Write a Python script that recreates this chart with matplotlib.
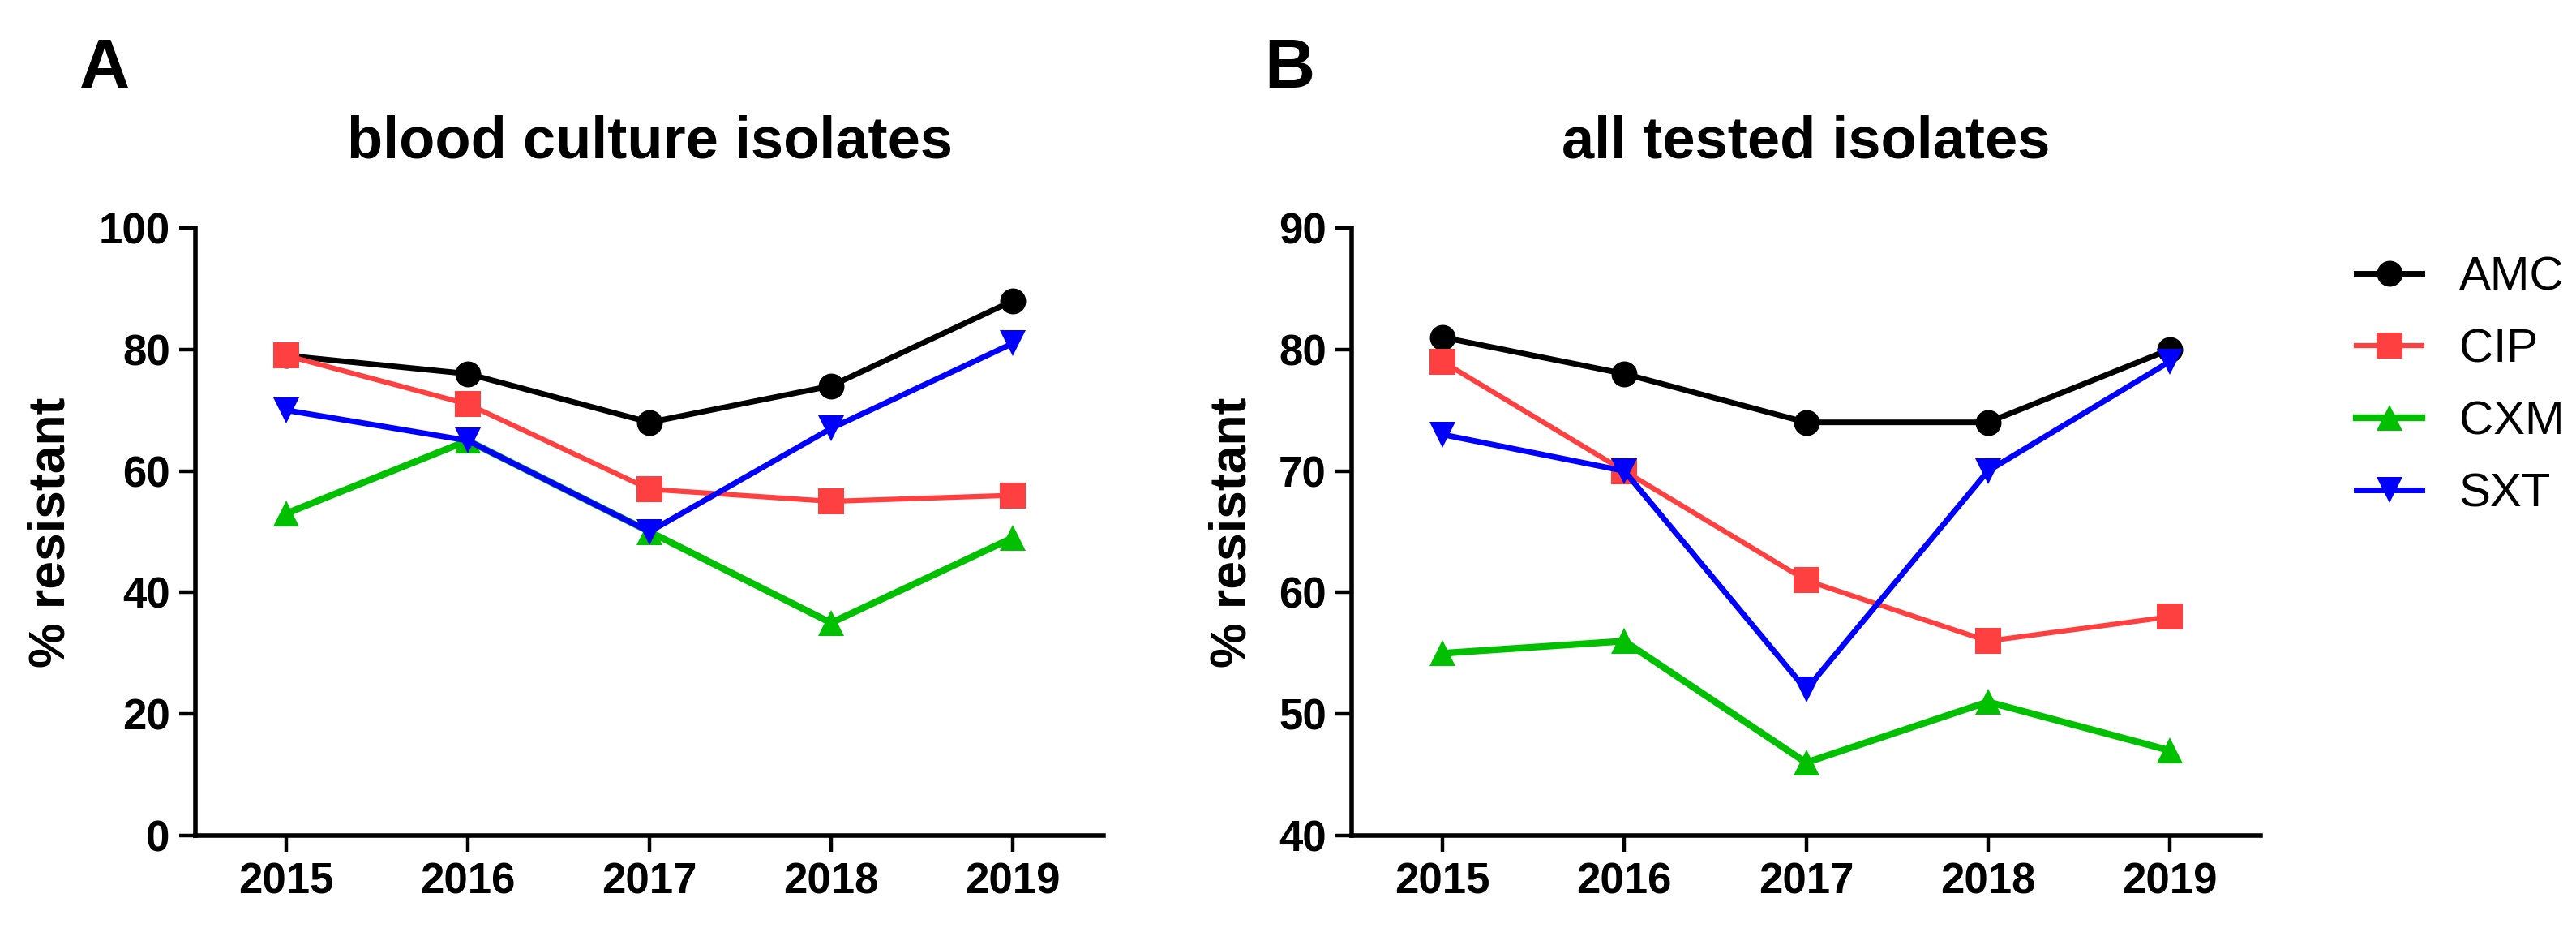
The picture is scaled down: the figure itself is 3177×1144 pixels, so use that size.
import matplotlib
matplotlib.use("Agg")
import matplotlib.pyplot as plt

plt.rcParams['font.family'] = ['Liberation Sans', 'DejaVu Sans']

years = [2015, 2016, 2017, 2018, 2019]
series_names = ["AMC", "CIP", "CXM", "SXT"]

# Panel A: blood culture isolates (% resistant)
blood_amc = [79, 76, 68, 74, 88]
blood_cip = [79, 71, 57, 55, 56]
blood_cxm = [53, 65, 50, 35, 49]
blood_sxt = [70, 65, 50, 67, 81]

# Panel B: all tested isolates (% resistant)
all_amc = [81, 78, 74, 74, 80]
all_cip = [79, 70, 61, 56, 58]
all_cxm = [55, 56, 46, 51, 47]
all_sxt = [73, 70, 52, 70, 79]

title_a = "blood culture isolates"
title_b = "all tested isolates"
ylabel = "% resistant"
yticks_a = [0, 20, 40, 60, 80, 100]
yticks_b = [40, 50, 60, 70, 80, 90]

colors = ["#000000", "#FF4040", "#00C000", "#0000FF"]
markers = ["o", "s", "^", "v"]
lws = [5.0, 4.5, 6.0, 5.0]

W, H = 3177, 1144
fig = plt.figure(figsize=(W / 100, H / 100), dpi=100)

def px_axes(l, r, t, b):
    return [l / W, 1 - b / H, (r - l) / W, (b - t) / H]

axA = fig.add_axes(px_axes(241, 1361, 281, 1030))
axB = fig.add_axes(px_axes(1667, 2788, 281, 1030))

handles = []
for ax, data, yt, title in [
    (axA, [blood_amc, blood_cip, blood_cxm, blood_sxt], yticks_a, title_a),
    (axB, [all_amc, all_cip, all_cxm, all_sxt], yticks_b, title_b),
]:
    hs = []
    for vals, c, m, lw, name in zip(data, colors, markers, lws, series_names):
        h, = ax.plot(years, vals, color=c, marker=m, markersize=23,
                     markeredgewidth=0, linewidth=lw, label=name,
                     solid_joinstyle='miter', clip_on=False)
        hs.append(h)
    handles = hs
    ax.set_xlim(2014.5, 2019.5)
    ax.set_ylim(yt[0], yt[-1])
    ax.set_xticks(years)
    ax.set_xticklabels([str(y) for y in years])
    ax.set_yticks(yt)
    for s in ["top", "right"]:
        ax.spines[s].set_visible(False)
    for s in ["left", "bottom"]:
        ax.spines[s].set_linewidth(4.0)
    ax.tick_params(axis='both', direction='out', length=14.5, width=3.2,
                   labelsize=38)
    ax.tick_params(axis='x', pad=9)
    ax.tick_params(axis='y', pad=8)
    for lab in ax.get_xticklabels() + ax.get_yticklabels():
        lab.set_fontweight('bold')
    ax.set_title(title, fontsize=52, fontweight='bold', pad=62)

fig.text(63 / W, 1 - 656 / H, ylabel, rotation=90, ha='center', va='center',
         fontsize=45, fontweight='bold')
fig.text(1520 / W, 1 - 656 / H, ylabel, rotation=90, ha='center', va='center',
         fontsize=45, fontweight='bold')

fig.text(98 / W, 1 - 108 / H, "A", fontsize=62, fontweight='bold',
         ha='left', va='baseline')
fig.text(1559 / W, 1 - 108 / H, "B", fontsize=62, fontweight='bold',
         ha='left', va='baseline')

fig.legend(handles=handles, labels=series_names, loc='upper left',
           bbox_to_anchor=(2906 / W, 1 - 315 / H), frameon=False,
           fontsize=42, handlelength=1.39, handletextpad=0.78,
           labelspacing=0.6, borderpad=0, borderaxespad=0)

fig.savefig("out.png", dpi=100)
